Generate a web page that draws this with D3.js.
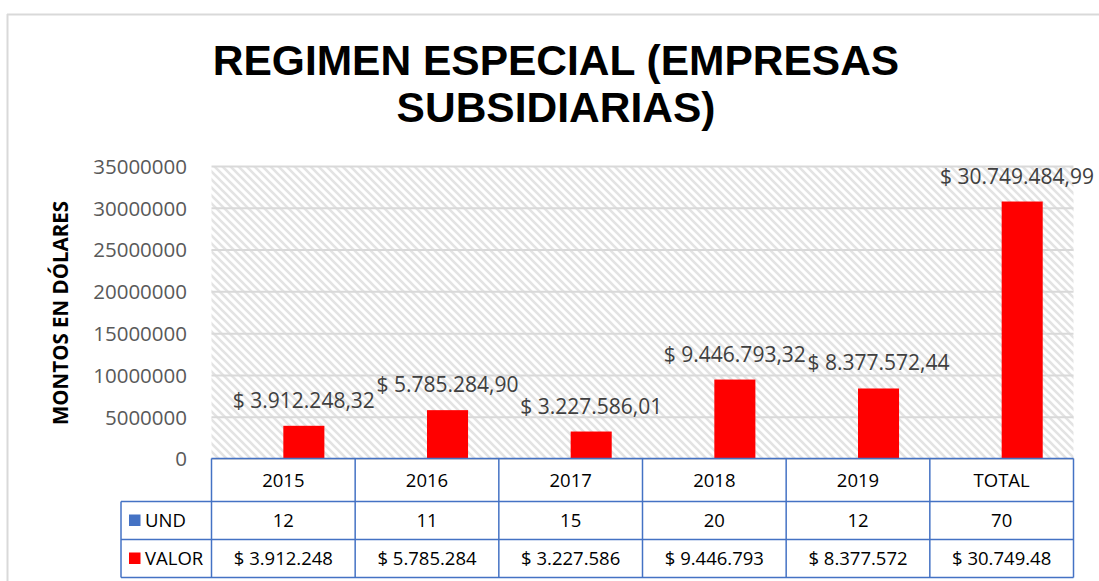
<!DOCTYPE html>
<html>
<head>
<meta charset="utf-8">
<script src="https://cdn.jsdelivr.net/npm/d3@7"></script>
<style>
  html, body { margin: 0; padding: 0; background: #fff; }
  svg { display: block; }
</style>
</head>
<body>
<script>
// ---- DATA ----
const categories = ["2015", "2016", "2017", "2018", "2019", "TOTAL"];
const seriesNames = ["UND", "VALOR"];
const undValues = [12, 11, 15, 20, 12, 70];
const valorValues = [3912248.32, 5785284.90, 3227586.01, 9446793.32, 8377572.44, 30749484.99];
const valorLabels = ["$ 3.912.248,32", "$ 5.785.284,90", "$ 3.227.586,01", "$ 9.446.793,32", "$ 8.377.572,44", "$ 30.749.484,99"];
const valorTableLabels = ["$ 3.912.248", "$ 5.785.284", "$ 3.227.586", "$ 9.446.793", "$ 8.377.572", "$ 30.749.48"];
const yTicks = [0, 5000000, 10000000, 15000000, 20000000, 25000000, 30000000, 35000000];
const titleLines = ["REGIMEN ESPECIAL (EMPRESAS", "SUBSIDIARIAS)"];
const yTitle = "MONTOS EN DÓLARES";
const seriesColors = ["#4472C4", "#FF0000"];

// ---- LAYOUT ----
const W = 1099, H = 581;
const plot = { left: 211.5, right: 1073.5, top: 166, bottom: 458.5 };
const table = { left: 121, rowTops: [458.5, 501.5, 539.5, 577.5] };

const svg = d3.select("body").append("svg").attr("width", W).attr("height", H);

const defs = svg.append("defs");
const pat = defs.append("pattern")
  .attr("id", "hatch").attr("patternUnits", "userSpaceOnUse")
  .attr("width", 8).attr("height", 8);
pat.append("rect").attr("width", 8).attr("height", 8).attr("fill", "#ffffff");
pat.append("path")
  .attr("d", "M-2,-2 L10,10 M-2,6 L2,10 M6,-2 L10,2")
  .attr("stroke", "#e3e3e3").attr("stroke-width", 2.6);

// chart border (top & left visible)
svg.append("line").attr("x1", 7).attr("x2", W).attr("y1", 14.5).attr("y2", 14.5)
  .attr("stroke", "#d9d9d9").attr("stroke-width", 2);
svg.append("line").attr("x1", 7.5).attr("x2", 7.5).attr("y1", 14).attr("y2", H)
  .attr("stroke", "#d9d9d9").attr("stroke-width", 2);

// title
svg.append("g").selectAll("text").data(titleLines).join("text")
  .attr("x", 556).attr("y", (d, i) => 75 + i * 47)
  .attr("text-anchor", "middle")
  .attr("font-family", "'Liberation Sans', Arial, sans-serif")
  .attr("font-weight", "bold").attr("font-size", 42.5).attr("fill", "#000")
  .text(d => d);

// scales
const x = d3.scaleBand().domain(categories).range([plot.left, plot.right]).padding(0);
const xs = d3.scaleBand().domain(seriesNames).range([0, x.bandwidth()]).paddingInner(0).paddingOuter(0.75);
const y = d3.scaleLinear().domain([0, 35000000]).range([plot.bottom, plot.top]);

// plot area background
svg.append("rect").attr("x", plot.left).attr("y", plot.top)
  .attr("width", plot.right - plot.left).attr("height", plot.bottom - plot.top)
  .attr("fill", "url(#hatch)");

// gridlines
const yAxisGrid = d3.axisLeft(y).tickValues(yTicks).tickSize(-(plot.right - plot.left)).tickFormat("");
const gGrid = svg.append("g").attr("transform", `translate(${plot.left},0)`).call(yAxisGrid);
gGrid.select(".domain").remove();
gGrid.selectAll("line").attr("stroke", "#d9d9d9").attr("stroke-width", 2);

// y tick labels
const yAxis = d3.axisLeft(y).tickValues(yTicks).tickSize(0).tickPadding(0).tickFormat(d3.format("d"));
const gY = svg.append("g").attr("transform", `translate(187,0)`).call(yAxis);
gY.select(".domain").remove();
gY.selectAll("text").attr("font-family", "'Open Sans', sans-serif").attr("font-size", 20.5)
  .attr("fill", "#595959").attr("dy", "0.36em");

// y title
svg.append("text")
  .attr("transform", `translate(68,313) rotate(-90)`)
  .attr("text-anchor", "middle")
  .attr("font-family", "'Open Sans', sans-serif").attr("font-weight", "bold")
  .attr("font-size", 20.5).attr("fill", "#000")
  .text(yTitle);

// bars
const seriesData = [undValues, valorValues];
seriesNames.forEach((s, si) => {
  svg.append("g").selectAll("rect").data(seriesData[si]).join("rect")
    .attr("x", (d, i) => x(categories[i]) + xs(s))
    .attr("width", xs.bandwidth())
    .attr("y", d => y(d))
    .attr("height", d => y(0) - y(d))
    .attr("fill", seriesColors[si]);
});

// data labels for VALOR
const gLab = svg.append("g");
valorValues.forEach((v, i) => {
  const cx = x(categories[i]) + xs("VALOR") + xs.bandwidth() / 2;
  const t = gLab.append("text")
    .attr("x", cx).attr("y", y(v) - 18)
    .attr("text-anchor", "middle")
    .attr("font-family", "'Open Sans', sans-serif").attr("font-size", 21)
    .attr("fill", "#404040")
    .text(valorLabels[i]);
  const w = t.node().getComputedTextLength();
  if (cx + w / 2 > 1094) t.attr("x", 1094 - w / 2);
});

// data table
const lineColor = "#4472C4";
const gT = svg.append("g");
const rt = table.rowTops;
gT.append("line").attr("x1", plot.left).attr("x2", plot.right).attr("y1", rt[0]).attr("y2", rt[0]);
[rt[1], rt[2], rt[3]].forEach(yy =>
  gT.append("line").attr("x1", table.left).attr("x2", plot.right).attr("y1", yy).attr("y2", yy));
gT.append("line").attr("x1", table.left).attr("x2", table.left).attr("y1", rt[1]).attr("y2", rt[3]);
categories.forEach(c => {
  gT.append("line").attr("x1", x(c)).attr("x2", x(c)).attr("y1", rt[0]).attr("y2", rt[3]);
});
gT.append("line").attr("x1", plot.right).attr("x2", plot.right).attr("y1", rt[0]).attr("y2", rt[3]);
gT.selectAll("line").attr("stroke", lineColor).attr("stroke-width", 1.5);

const cellFont = sel => sel.attr("font-family", "'Open Sans', sans-serif").attr("font-size", 18.5)
  .attr("fill", "#000").attr("text-anchor", "middle").attr("dy", "0.36em");

gT.append("g").selectAll("text").data(categories).join("text")
  .attr("x", d => x(d) + x.bandwidth() / 2).attr("y", (rt[0] + rt[1]) / 2)
  .call(cellFont).text(d => d);
gT.append("g").selectAll("text").data(undValues).join("text")
  .attr("x", (d, i) => x(categories[i]) + x.bandwidth() / 2).attr("y", (rt[1] + rt[2]) / 2)
  .call(cellFont).text(d => d);
gT.append("g").selectAll("text").data(valorTableLabels).join("text")
  .attr("x", (d, i) => x(categories[i]) + x.bandwidth() / 2).attr("y", (rt[2] + rt[3]) / 2)
  .call(cellFont).text(d => d);

// legend keys in table
seriesNames.forEach((s, si) => {
  const cy = (rt[si + 1] + rt[si + 2]) / 2;
  gT.append("rect").attr("x", 129).attr("y", cy - 6).attr("width", 11.5).attr("height", 11.5)
    .attr("fill", seriesColors[si]);
  gT.append("text").attr("x", 145).attr("y", cy)
    .attr("font-family", "'Open Sans', sans-serif").attr("font-size", 18.5)
    .attr("fill", "#000").attr("dy", "0.36em").text(s);
});
</script>
</body>
</html>
